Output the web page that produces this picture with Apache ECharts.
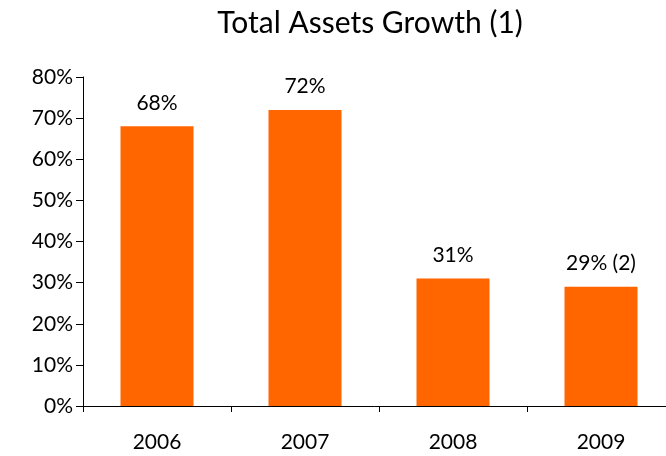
<!DOCTYPE html>
<html>
<head>
<meta charset="utf-8">
<script src="https://cdn.jsdelivr.net/npm/echarts@6/dist/echarts.min.js"></script>
<style>
  html, body { margin: 0; padding: 0; background: #fff; }
  #main { width: 666px; height: 456px; }
</style>
</head>
<body>
<div id="main"></div>
<script>
const years = ['2006', '2007', '2008', '2009'];
const growth = [68, 72, 31, 29];
const barLabels = ['68%', '72%', '31%', '29% (2)'];

const chart = echarts.init(document.getElementById('main'));

const option = {
  animation: false,
  title: {
    text: 'Total Assets Growth (1)',
    left: 365,
    top: 3,
    textAlign: 'center',
    textStyle: { fontFamily: 'Lato', fontSize: 30, fontWeight: 'normal', color: '#000' }
  },
  grid: {
    left: 83,
    top: 77,
    width: 592,
    height: 329,
    outerBoundsMode: 'none',
    containLabel: false
  },
  xAxis: {
    type: 'category',
    data: years,
    axisLine: { lineStyle: { color: '#000', width: 1 } },
    axisTick: { show: true, length: 6, lineStyle: { color: '#000' } },
    axisLabel: { margin: 26, fontFamily: 'Lato', fontSize: 21, color: '#000' }
  },
  yAxis: {
    type: 'value',
    min: 0,
    max: 80,
    interval: 10,
    axisLine: { show: true, lineStyle: { color: '#000', width: 1 } },
    axisTick: { show: true, length: 7, lineStyle: { color: '#000' } },
    splitLine: { show: false },
    axisLabel: { margin: 10, fontFamily: 'Lato', fontSize: 21, color: '#000', formatter: '{value}%' }
  },
  series: [{
    type: 'bar',
    data: growth,
    barWidth: 73,
    itemStyle: { color: '#FF6600' },
    label: {
      show: true,
      position: 'top',
      distance: 13,
      fontFamily: 'Lato',
      fontSize: 21,
      color: '#000',
      formatter: p => barLabels[p.dataIndex]
    }
  }]
};

chart.setOption(option);
</script>
</body>
</html>
